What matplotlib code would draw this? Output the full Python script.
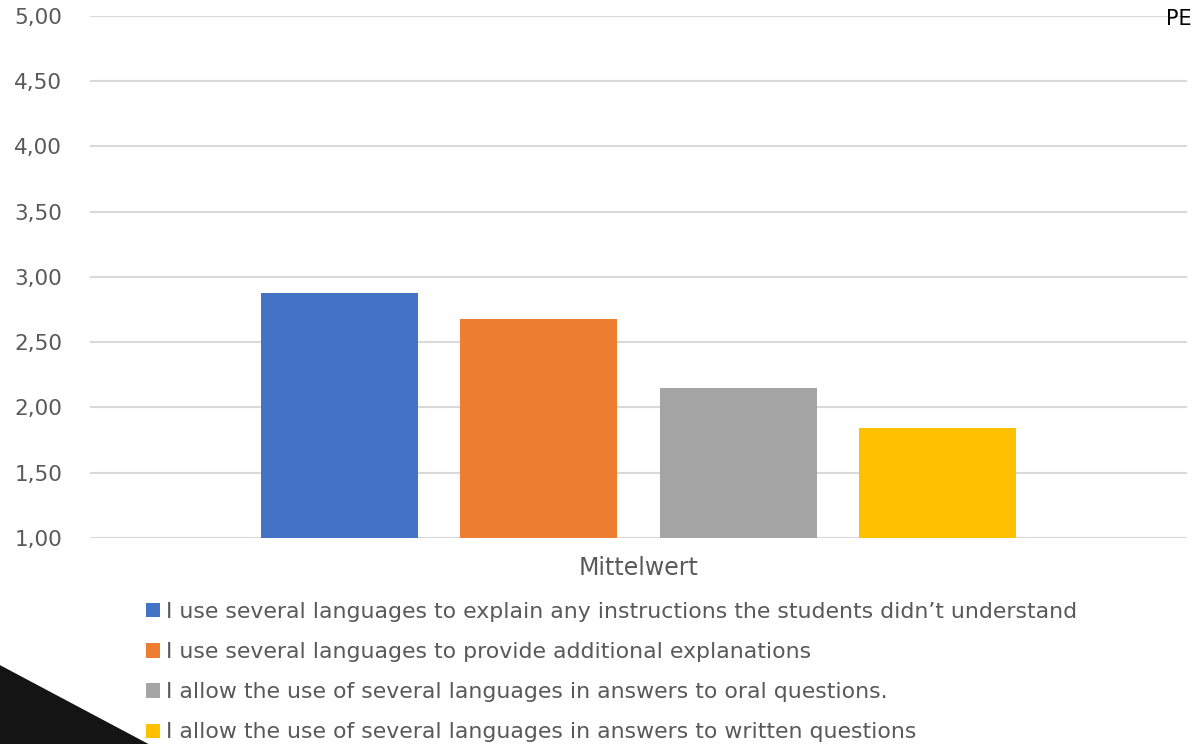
import matplotlib.pyplot as plt
from matplotlib.patches import Polygon

plt.rcParams['font.family'] = ['DejaVu Sans']

labels = [
    'I use several languages to explain any instructions the students didn\u2019t understand',
    'I use several languages to provide additional explanations',
    'I allow the use of several languages in answers to oral questions.',
    'I allow the use of several languages in answers to written questions',
]
values = [2.88, 2.68, 2.15, 1.84]
colors = ['#4472c4', '#ed7d31', '#a5a5a5', '#ffc000']
category = 'Mittelwert'
yticks = [1.0, 1.5, 2.0, 2.5, 3.0, 3.5, 4.0, 4.5, 5.0]

fig = plt.figure(figsize=(11.97, 7.44), dpi=100)
ax = fig.add_axes([0.0752, 0.2769, 0.9164, 0.7016])

for i, (lab, v, c) in enumerate(zip(labels, values, colors)):
    ax.bar(i, v - 1.0, bottom=1.0, width=0.787, color=c, label=lab, zorder=3)

ax.set_xlim(-1.25, 4.25)
ax.set_ylim(1.0, 5.0)
ax.set_yticks(yticks)
ax.set_yticklabels([f'{t:.2f}'.replace('.', ',') for t in yticks], fontsize=15.5, color='#595959')
ax.tick_params(axis='y', length=0, pad=20)
ax.set_xticks([1.5])
ax.set_xticklabels([category], fontsize=17, color='#595959')
ax.tick_params(axis='x', length=0, pad=13)
ax.yaxis.grid(True, color='#d9d9d9', linewidth=1.5, zorder=0)
for s in ax.spines.values():
    s.set_visible(False)

leg = fig.legend(loc='upper left', bbox_to_anchor=(0.122, 0.191), frameon=False,
                 fontsize=15.8, handlelength=0.63, handleheight=0.63, handletextpad=0.3,
                 labelspacing=0.92, borderpad=0, borderaxespad=0)
for t in leg.get_texts():
    t.set_color('#595959')

# dark corner shape at the bottom left
fig.patches.append(Polygon([(0, 0.106), (0.124, 0.0), (0, 0.0)], closed=True,
                           transform=fig.transFigure, facecolor='#141414', edgecolor='none'))
fig.text(0.985, 0.975, 'PE', fontsize=15, color='black', ha='center', va='center')

fig.savefig('out.png', dpi=100)
